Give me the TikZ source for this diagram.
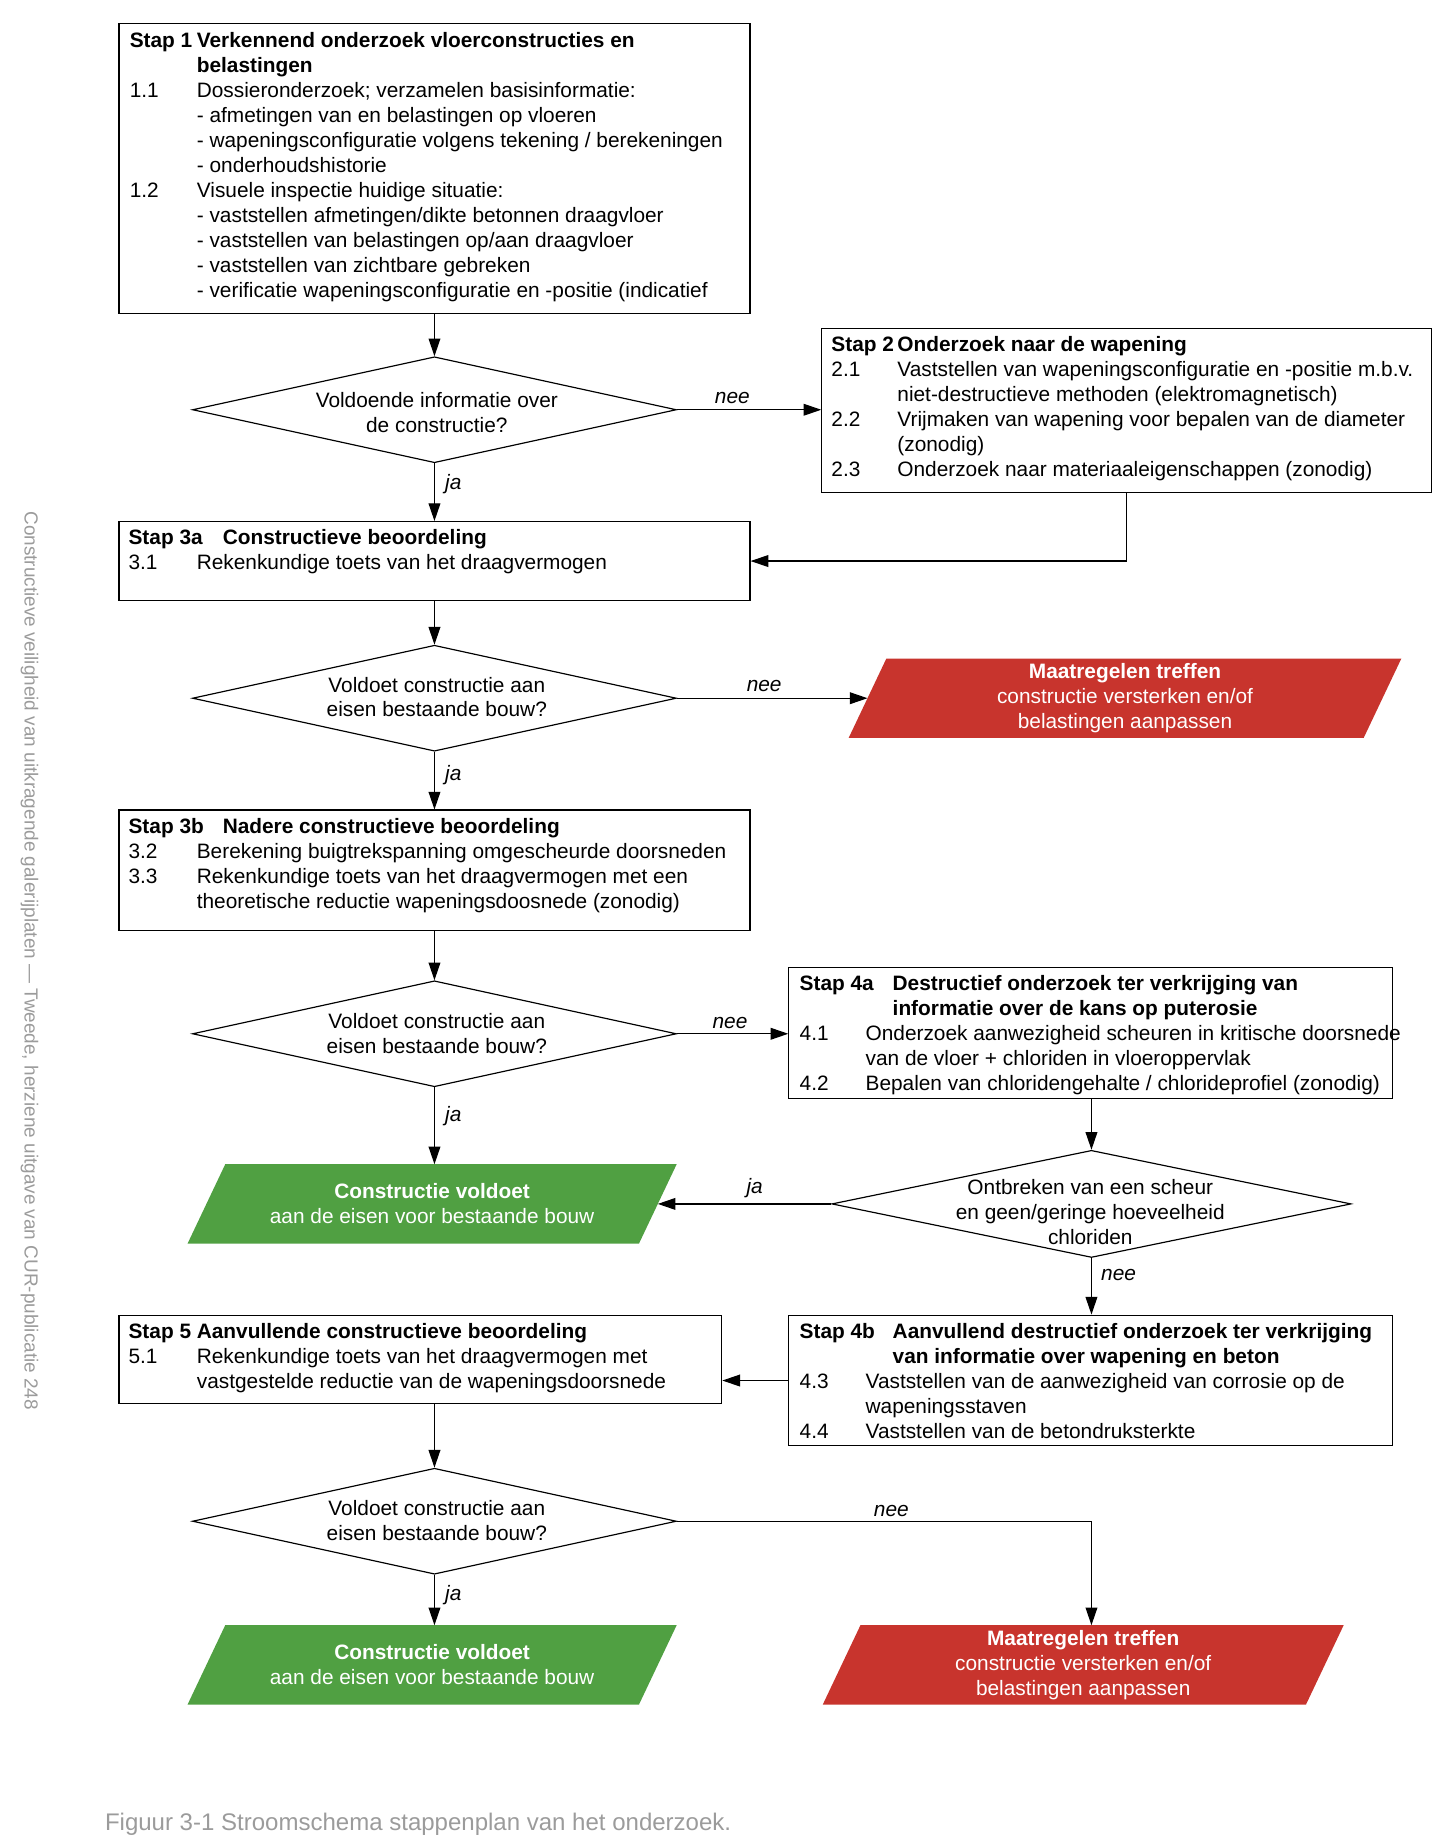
\documentclass[tikz,border=0pt]{standalone}
\usepackage{fontspec}
\setmainfont{Liberation Sans}
\usetikzlibrary{arrows.meta,shapes.geometric,calc,backgrounds}
\definecolor{redbox}{RGB}{200,52,45}
\definecolor{greenbox}{RGB}{80,160,66}
\definecolor{capgray}{RGB}{155,155,155}
\newcommand\fs{\fontsize{17.7}{21.2}\selectfont}
\newcommand\nr[2]{\makebox[#1pt][l]{#2}}
\begin{document}
\begin{tikzpicture}[x=1pt,y=-1pt,
  box/.style={draw,line width=1pt,rectangle,inner sep=0pt},
  dia/.style={draw,line width=1pt,diamond,inner sep=0pt,minimum width=411pt,minimum height=90pt},
  txt/.style={anchor=north west,align=left,inner sep=0pt,font=\fs},
  ctxt/.style={align=center,inner sep=0pt,font=\fs},
  pbox/.style={rectangle,inner sep=0pt,draw=none,text=white,align=center,font=\fs},
  arr/.style={line width=1pt,-{Triangle[length=15pt,width=10pt]}},
  lbl/.style={font=\fs\itshape,inner sep=0pt},
]
\useasboundingbox (0,0) rectangle (1234,1567);

% boxes
\node[box,minimum width=536pt,minimum height=246pt] (b1) at (369,143) {};
\node[txt] (t1) at (110,27.6) {%
\textbf{\nr{57}{Stap 1}Verkennend onderzoek vloerconstructies en}\\
\textbf{\hspace*{57pt}belastingen}\\
\nr{57}{1.1}Dossieronderzoek; verzamelen basisinformatie:\\
\hspace*{57pt}- afmetingen van en belastingen op vloeren\\
\hspace*{57pt}- wapeningsconfiguratie volgens tekening / berekeningen\\
\hspace*{57pt}- onderhoudshistorie\\
\nr{57}{1.2}Visuele inspectie huidige situatie:\\
\hspace*{57pt}- vaststellen afmetingen/dikte betonnen draagvloer\\
\hspace*{57pt}- vaststellen van belastingen op/aan draagvloer\\
\hspace*{57pt}- vaststellen van zichtbare gebreken\\
\hspace*{57pt}- verificatie wapeningsconfiguratie en -positie (indicatief};

\node[box,minimum width=518pt,minimum height=139pt] (b2) at (957,348.5) {};
\node[txt] (t2) at (706,285.6) {%
\textbf{\nr{56}{Stap 2}Onderzoek naar de wapening}\\
\nr{56}{2.1}Vaststellen van wapeningsconfiguratie en -positie m.b.v.\\
\hspace*{56pt}niet-destructieve methoden (elektromagnetisch)\\
\nr{56}{2.2}Vrijmaken van wapening voor bepalen van de diameter\\
\hspace*{56pt}(zonodig)\\
\nr{56}{2.3}Onderzoek naar materiaaleigenschappen (zonodig)};

\node[box,minimum width=536pt,minimum height=67pt] (b3a) at (369,476.5) {};
\node[txt] (t3a) at (109,449.6) {%
\textbf{\nr{80}{Stap 3a}Constructieve beoordeling}\\
\nr{58}{3.1}Rekenkundige toets van het draagvermogen};

\node[box,minimum width=536pt,minimum height=102pt] (b3b) at (369,739) {};
\node[txt] (t3b) at (109,694.6) {%
\textbf{\nr{80}{Stap 3b}Nadere constructieve beoordeling}\\
\nr{58}{3.2}Berekening buigtrekspanning omgescheurde doorsneden\\
\nr{58}{3.3}Rekenkundige toets van het draagvermogen met een\\
\hspace*{58pt}theoretische reductie wapeningsdoosnede (zonodig)};

\node[box,minimum width=513pt,minimum height=111pt] (b4a) at (926.5,877.5) {};
\node[txt] (t4a) at (679,828.6) {%
\textbf{\nr{79}{Stap 4a}Destructief onderzoek ter verkrijging van}\\
\textbf{\hspace*{79pt}informatie over de kans op puterosie}\\
\nr{56}{4.1}Onderzoek aanwezigheid scheuren in kritische doorsnede\\
\hspace*{56pt}van de vloer + chloriden in vloeroppervlak\\
\nr{56}{4.2}Bepalen van chloridengehalte / chlorideprofiel (zonodig)};

\node[box,minimum width=513pt,minimum height=111pt] (b4b) at (926.5,1172.5) {};
\node[txt] (t4b) at (679,1123.6) {%
\textbf{\nr{79}{Stap 4b}Aanvullend destructief onderzoek ter verkrijging}\\
\textbf{\hspace*{79pt}van informatie over wapening en beton}\\
\nr{56}{4.3}Vaststellen van de aanwezigheid van corrosie op de\\
\hspace*{56pt}wapeningsstaven\\
\nr{56}{4.4}Vaststellen van de betondruksterkte};

\node[box,minimum width=512pt,minimum height=75pt] (b5) at (357,1154.5) {};
\node[txt] (t5) at (109,1123.6) {%
\textbf{\nr{58}{Stap 5}Aanvullende constructieve beoordeling}\\
\nr{58}{5.1}Rekenkundige toets van het draagvermogen met\\
\hspace*{58pt}vastgestelde reductie van de wapeningsdoorsnede};

% diamonds
\node[dia] (d1) at (369,348) {};
\node[ctxt] (d1t) at (371,350) {Voldoende informatie over\\de constructie?};
\node[dia] (d2) at (369,593) {};
\node[ctxt] (d2t) at (371,592) {Voldoet constructie aan\\eisen bestaande bouw?};
\node[dia] (d3) at (369,878) {};
\node[ctxt] (d3t) at (371,877.5) {Voldoet constructie aan\\eisen bestaande bouw?};
\node[dia,minimum width=441pt,minimum height=91pt] (d4) at (927,1022.5) {};
\node[ctxt] (d4t) at (926,1029.5) {Ontbreken van een scheur\\en geen/geringe hoeveelheid\\chloriden};
\node[dia] (d5) at (369,1292) {};
\node[ctxt] (d5t) at (371,1291.5) {Voldoet constructie aan\\eisen bestaande bouw?};

% parallelograms (outer box nodes; slanted fill drawn on background)
\node[pbox,minimum width=469pt,minimum height=67pt] (r1) at (955.5,593) {\textbf{Maatregelen treffen}\\constructie versterken en/of\\belastingen aanpassen};
\node[pbox,minimum width=415pt,minimum height=67pt] (g1) at (367,1022.5) {\textbf{Constructie voldoet}\\aan de eisen voor bestaande bouw};
\node[pbox,minimum width=415pt,minimum height=67pt] (g2) at (367,1414) {\textbf{Constructie voldoet}\\aan de eisen voor bestaande bouw};
\node[pbox,minimum width=442pt,minimum height=67pt] (r2) at (920,1414) {\textbf{Maatregelen treffen}\\constructie versterken en/of\\belastingen aanpassen};
\begin{scope}[on background layer]
\foreach \n/\c in {r1/redbox,g1/greenbox,g2/greenbox,r2/redbox}{
  \fill[\c] (\n.south west) -- ([xshift=32pt]\n.north west) -- (\n.north east) -- ([xshift=-32pt]\n.south east) -- cycle;
}
\end{scope}
\coordinate (r1in) at ([xshift=16pt]r1.west);
\coordinate (g1in) at ([xshift=-16pt]g1.east);

% connectors
\draw[arr] (b1.south) -- (d1.north);
\draw[arr] (d1.east) -- (d1.east -| b2.west);
\draw[arr] (d1.south) -- (b3a.north);
\draw[arr] (b2.south) |- (b3a.east);
\draw[arr] (b3a.south) -- (d2.north);
\draw[arr] (d2.east) -- (d2.east -| r1in);
\draw[arr] (d2.south) -- (b3b.north);
\draw[arr] (b3b.south) -- (d3.north);
\draw[arr] (d3.east) -- (d3.east -| b4a.west);
\draw[arr] (d3.south) -- (d3.south |- g1.north);
\draw[arr] (d4.north |- b4a.south) -- (d4.north);
\draw[arr] (d4.west) -- (d4.west -| g1in);
\draw[arr] (d4.south) -- (d4.south |- b4b.north);
\draw[arr] (b4b.west) -- (b4b.west -| b5.east);
\draw[arr] (d5.north |- b5.south) -- (d5.north);
\draw[arr] (d5.east) -- (d5.east -| d4.south) -- (d4.south |- r2.north);
\draw[arr] (d5.south) -- (d5.south |- g2.north);

% labels
\node[lbl] (l1) at (622,338) {nee};
\node[lbl] (l2) at (385,411) {ja};
\node[lbl] (l3) at (649,583) {nee};
\node[lbl] (l4) at (385,658) {ja};
\node[lbl] (l5) at (620,869) {nee};
\node[lbl] (l6) at (385,948) {ja};
\node[lbl] (l7) at (641,1009) {ja};
\node[lbl] (l8) at (950,1083) {nee};
\node[lbl] (l9) at (757,1283) {nee};
\node[lbl] (l10) at (385,1355) {ja};

% caption and side text
\node[anchor=west,inner sep=0pt,font=\fontsize{20.4}{24}\selectfont,text=capgray] (cap) at (89,1549) {Figuur 3-1 Stroomschema stappenplan van het onderzoek.};
\node[rotate=-90,inner sep=0pt,font=\fontsize{16.1}{19}\selectfont,text=capgray] (side) at (25,816) {Constructieve veiligheid van uitkragende galerijplaten — Tweede, herziene uitgave van CUR-publicatie 248};
\end{tikzpicture}
\end{document}
